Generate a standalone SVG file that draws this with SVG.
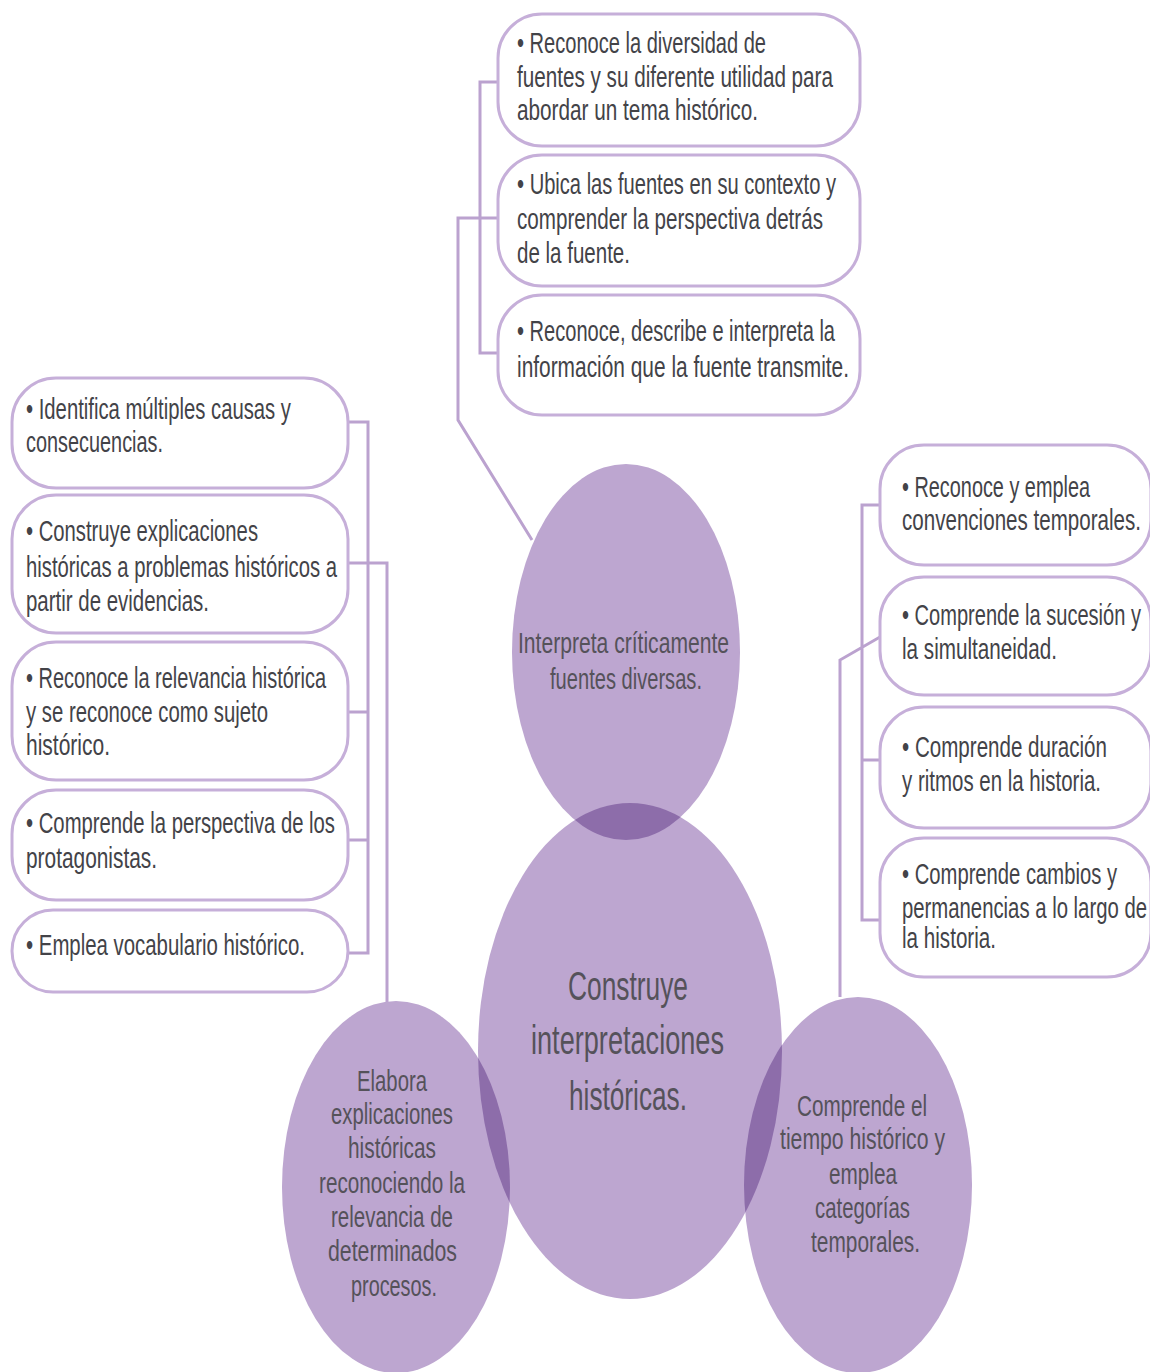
<svg xmlns="http://www.w3.org/2000/svg" width="1150" height="1372" viewBox="0 0 1150 1372">
<style>
.box{fill:#fff;stroke:#C6AFD9;stroke-width:3}
.con{fill:none;stroke:#BBA2CF;stroke-width:3}
.ell{fill:#BDA6D0}
.ov{fill:#8D6DAA}
.t{font-family:"Liberation Sans",Arial,sans-serif;font-size:30px;fill:#434348}
.e{font-family:"Liberation Sans",Arial,sans-serif;font-size:30px;fill:#55525A}
.c{font-family:"Liberation Sans",Arial,sans-serif;font-size:41px;fill:#55525A}
</style>
<defs>
<clipPath id="clipC"><ellipse cx="630" cy="1051" rx="152" ry="248"/></clipPath>
</defs>
<rect width="1150" height="1372" fill="#fff"/>
<g id="connectors">
<path class="con" d="M498 82 H480 V353 H498 M480 218 H498 M480 218 H458 V420 L532 540"/>
<path class="con" d="M348 422 H368 V953 H348 M348 712 H368 M348 840 H368 M348 563 H387 V1002"/>
<path class="con" d="M880 505 H862 V920 H880 M862 760 H880 M880 637 L840 660 V997"/>
</g>
<g id="top-boxes">
<g id="t1"><rect class="box" x="498" y="14" width="362" height="132" rx="44"/>
<text class="t"><tspan x="517" y="53" textLength="249" lengthAdjust="spacingAndGlyphs">• Reconoce la diversidad de</tspan><tspan x="517" y="87" textLength="316" lengthAdjust="spacingAndGlyphs">fuentes y su diferente utilidad para</tspan><tspan x="517" y="120" textLength="241" lengthAdjust="spacingAndGlyphs">abordar un tema histórico.</tspan></text></g>
<g id="t2"><rect class="box" x="498" y="155" width="362" height="131" rx="44"/>
<text class="t"><tspan x="517" y="194" textLength="319" lengthAdjust="spacingAndGlyphs">• Ubica las fuentes en su contexto y</tspan><tspan x="517" y="229" textLength="306" lengthAdjust="spacingAndGlyphs">comprender la perspectiva detrás</tspan><tspan x="517" y="263" textLength="113" lengthAdjust="spacingAndGlyphs">de la fuente.</tspan></text></g>
<g id="t3"><rect class="box" x="498" y="295" width="362" height="120" rx="44"/>
<text class="t"><tspan x="517" y="341" textLength="318" lengthAdjust="spacingAndGlyphs">• Reconoce, describe e interpreta la</tspan><tspan x="517" y="377" textLength="332" lengthAdjust="spacingAndGlyphs">información que la fuente transmite.</tspan></text></g>
</g>
<g id="left-boxes">
<g id="l1"><rect class="box" x="12" y="378" width="336" height="110" rx="44"/>
<text class="t"><tspan x="26" y="419" textLength="265" lengthAdjust="spacingAndGlyphs">• Identifica múltiples causas y</tspan><tspan x="26" y="452" textLength="137" lengthAdjust="spacingAndGlyphs">consecuencias.</tspan></text></g>
<g id="l2"><rect class="box" x="12" y="495" width="336" height="138" rx="44"/>
<text class="t"><tspan x="26" y="541" textLength="232" lengthAdjust="spacingAndGlyphs">• Construye explicaciones</tspan><tspan x="26" y="577" textLength="311" lengthAdjust="spacingAndGlyphs">históricas a problemas históricos a</tspan><tspan x="26" y="611" textLength="183" lengthAdjust="spacingAndGlyphs">partir de evidencias.</tspan></text></g>
<g id="l3"><rect class="box" x="12" y="642" width="336" height="138" rx="44"/>
<text class="t"><tspan x="26" y="688" textLength="300" lengthAdjust="spacingAndGlyphs">• Reconoce la relevancia histórica</tspan><tspan x="26" y="722" textLength="242" lengthAdjust="spacingAndGlyphs">y se reconoce como sujeto</tspan><tspan x="26" y="755" textLength="84" lengthAdjust="spacingAndGlyphs">histórico.</tspan></text></g>
<g id="l4"><rect class="box" x="12" y="790" width="336" height="110" rx="44"/>
<text class="t"><tspan x="26" y="833" textLength="309" lengthAdjust="spacingAndGlyphs">• Comprende la perspectiva de los</tspan><tspan x="26" y="868" textLength="131" lengthAdjust="spacingAndGlyphs">protagonistas.</tspan></text></g>
<g id="l5"><rect class="box" x="12" y="910" width="336" height="82" rx="41"/>
<text class="t"><tspan x="26" y="955" textLength="279" lengthAdjust="spacingAndGlyphs">• Emplea vocabulario histórico.</tspan></text></g>
</g>
<g id="right-boxes">
<g id="r1"><rect class="box" x="880" y="445" width="271" height="120" rx="44"/>
<text class="t"><tspan x="902" y="497" textLength="188" lengthAdjust="spacingAndGlyphs">• Reconoce y emplea</tspan><tspan x="902" y="530" textLength="239" lengthAdjust="spacingAndGlyphs">convenciones temporales.</tspan></text></g>
<g id="r2"><rect class="box" x="880" y="577" width="271" height="118" rx="44"/>
<text class="t"><tspan x="902" y="625" textLength="239" lengthAdjust="spacingAndGlyphs">• Comprende la sucesión y</tspan><tspan x="902" y="659" textLength="155" lengthAdjust="spacingAndGlyphs">la simultaneidad.</tspan></text></g>
<g id="r3"><rect class="box" x="880" y="707" width="271" height="121" rx="44"/>
<text class="t"><tspan x="902" y="757" textLength="205" lengthAdjust="spacingAndGlyphs">• Comprende duración</tspan><tspan x="902" y="791" textLength="199" lengthAdjust="spacingAndGlyphs">y ritmos en la historia.</tspan></text></g>
<g id="r4"><rect class="box" x="880" y="838" width="271" height="139" rx="44"/>
<text class="t"><tspan x="902" y="884" textLength="215" lengthAdjust="spacingAndGlyphs">• Comprende cambios y</tspan><tspan x="902" y="918" textLength="245" lengthAdjust="spacingAndGlyphs">permanencias a lo largo de</tspan><tspan x="902" y="948" textLength="94" lengthAdjust="spacingAndGlyphs">la historia.</tspan></text></g>
</g>
<g id="circles">
<ellipse class="ell" cx="626" cy="652" rx="114" ry="188"/>
<ellipse class="ell" cx="630" cy="1051" rx="152" ry="248"/>
<ellipse class="ell" cx="396" cy="1187" rx="114" ry="186"/>
<ellipse class="ell" cx="858" cy="1185" rx="114" ry="188"/>
<g clip-path="url(#clipC)">
<ellipse class="ov" cx="626" cy="652" rx="114" ry="188"/>
<ellipse class="ov" cx="396" cy="1187" rx="114" ry="186"/>
<ellipse class="ov" cx="858" cy="1185" rx="114" ry="188"/>
</g>
</g>
<g id="n-top">
<text class="e"><tspan x="518" y="653" textLength="211" lengthAdjust="spacingAndGlyphs">Interpreta críticamente</tspan><tspan x="550" y="689" textLength="152" lengthAdjust="spacingAndGlyphs">fuentes diversas.</tspan></text>
</g>
<g id="n-center">
<text class="c"><tspan x="568" y="1000" textLength="120" lengthAdjust="spacingAndGlyphs">Construye</tspan><tspan x="531" y="1054" textLength="193" lengthAdjust="spacingAndGlyphs">interpretaciones</tspan><tspan x="569" y="1110" textLength="118" lengthAdjust="spacingAndGlyphs">históricas.</tspan></text>
</g>
<g id="n-left">
<text class="e"><tspan x="357" y="1091" textLength="70" lengthAdjust="spacingAndGlyphs">Elabora</tspan><tspan x="331" y="1124" textLength="122" lengthAdjust="spacingAndGlyphs">explicaciones</tspan><tspan x="348" y="1158" textLength="88" lengthAdjust="spacingAndGlyphs">históricas</tspan><tspan x="319" y="1193" textLength="146" lengthAdjust="spacingAndGlyphs">reconociendo la</tspan><tspan x="331" y="1227" textLength="122" lengthAdjust="spacingAndGlyphs">relevancia de</tspan><tspan x="328" y="1261" textLength="129" lengthAdjust="spacingAndGlyphs">determinados</tspan><tspan x="351" y="1296" textLength="86" lengthAdjust="spacingAndGlyphs">procesos.</tspan></text>
</g>
<g id="n-right">
<text class="e"><tspan x="797" y="1116" textLength="130" lengthAdjust="spacingAndGlyphs">Comprende el</tspan><tspan x="780" y="1149" textLength="165" lengthAdjust="spacingAndGlyphs">tiempo histórico y</tspan><tspan x="829" y="1184" textLength="68" lengthAdjust="spacingAndGlyphs">emplea</tspan><tspan x="815" y="1218" textLength="95" lengthAdjust="spacingAndGlyphs">categorías</tspan><tspan x="811" y="1252" textLength="109" lengthAdjust="spacingAndGlyphs">temporales.</tspan></text>
</g>
</svg>
